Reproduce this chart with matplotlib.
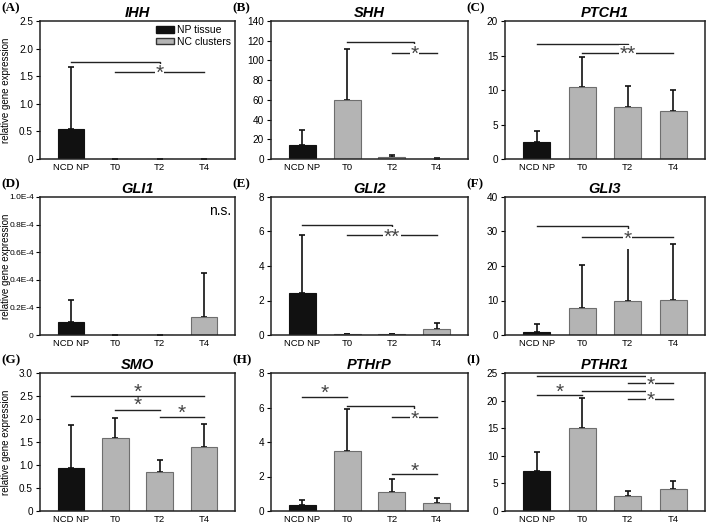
import matplotlib
matplotlib.use("Agg")
import matplotlib.pyplot as plt
import matplotlib.transforms as mtransforms
from matplotlib.patches import Patch

plt.rcParams["font.family"] = ["Liberation Sans", "DejaVu Sans"]

CATEGORIES = ["NCD NP", "T0", "T2", "T4"]

# mean and upper SD per gene
IHH_MEAN = [0.55, 0, 0, 0]
IHH_SD = [1.12, 0, 0, 0]
SHH_MEAN = [13.9, 60, 2.1, 0.3]
SHH_SD = [15.6, 52, 2.1, 0.4]
PTCH1_MEAN = [2.5, 10.5, 7.55, 7.0]
PTCH1_SD = [1.5, 4.3, 3.05, 2.95]
GLI1_MEAN = [0.93e-5, 0, 0, 1.34e-5]
GLI1_SD = [1.63e-5, 0, 0, 3.12e-5]
GLI2_MEAN = [2.41, 0.03, 0.03, 0.33]
GLI2_SD = [3.36, 0.02, 0.02, 0.39]
GLI3_MEAN = [0.96, 7.7, 10.0, 10.2]
GLI3_SD = [2.24, 12.7, 16.3, 16.3]
SMO_MEAN = [0.93, 1.58, 0.84, 1.39]
SMO_SD = [0.94, 0.44, 0.26, 0.50]
PTHRP_MEAN = [0.33, 3.46, 1.08, 0.44]
PTHRP_SD = [0.32, 2.44, 0.75, 0.31]
PTHR1_MEAN = [7.2, 15.0, 2.7, 3.9]
PTHR1_SD = [3.4, 5.5, 1.0, 1.5]

# y ticks
IHH_YTICKS = [0, 0.5, 1.0, 1.5, 2.0, 2.5]
IHH_YLABELS = ["0", "0.5", "1.0", "1.5", "2.0", "2.5"]
SHH_YTICKS = [0, 20, 40, 60, 80, 100, 120, 140]
PTCH1_YTICKS = [0, 5, 10, 15, 20]
GLI1_YTICKS = [0, 0.2e-4, 0.4e-4, 0.6e-4, 0.8e-4, 1.0e-4]
GLI1_YLABELS = ["0", "0.2E-4", "0.4E-4", "0.6E-4", "0.8E-4", "1.0E-4"]
GLI2_YTICKS = [0, 2, 4, 6, 8]
GLI3_YTICKS = [0, 10, 20, 30, 40]
SMO_YTICKS = [0, 0.5, 1.0, 1.5, 2.0, 2.5, 3.0]
SMO_YLABELS = ["0", "0.5", "1.0", "1.5", "2.0", "2.5", "3.0"]
PTHRP_YTICKS = [0, 2, 4, 6, 8]
PTHR1_YTICKS = [0, 5, 10, 15, 20, 25]

# significance marks:
#   ("bracket", x0, x1, y, y_drop)       line with a drop at x1
#   ("on", x0, x1, y, text, x_text)      line broken by the star
#   ("above", x0, x1, y, text, y_text)   star sitting over the line
IHH_SIG = [("bracket", 0, 2, 1.76, 1.68), ("on", 1, 3, 1.58, "*", 2)]
SHH_SIG = [("bracket", 1, 2.5, 118.5, 114), ("on", 2, 3, 108, "*", 2.5)]
PTCH1_SIG = [("bracket", 0, 2, 16.6, 16.1), ("on", 1, 3, 15.4, "**", 2)]
GLI1_SIG = []
GLI2_SIG = [("bracket", 0, 2, 6.39, 6.16), ("on", 1, 3, 5.77, "**", 2)]
GLI3_SIG = [("bracket", 0, 2, 31.5, 30.4), ("on", 1, 3, 28.4, "*", 2)]
SMO_SIG = [("above", 0, 3, 2.49, "*", 2.62), ("above", 1, 2, 2.20, "*", 2.33),
           ("above", 2, 3, 2.05, "*", 2.17)]
PTHRP_SIG = [("above", 0, 1, 6.63, "*", 6.93), ("bracket", 1, 2.5, 6.06, 5.79),
             ("on", 2, 3, 5.45, "*", 2.5), ("above", 2, 3, 2.12, "*", 2.44)]
PTHR1_SIG = [("bracket", 0, 2.5, 24.5, 23.6), ("on", 2, 3, 23.2, "*", 2.5),
             ("above", 0, 1, 21.0, "*", 21.9), ("bracket", 1, 2.5, 21.75, 20.8),
             ("on", 2, 3, 20.35, "*", 2.5)]

PANELS = [
    ("(A)", "IHH", IHH_MEAN, IHH_SD, IHH_YTICKS, IHH_YLABELS, IHH_SIG),
    ("(B)", "SHH", SHH_MEAN, SHH_SD, SHH_YTICKS, None, SHH_SIG),
    ("(C)", "PTCH1", PTCH1_MEAN, PTCH1_SD, PTCH1_YTICKS, None, PTCH1_SIG),
    ("(D)", "GLI1", GLI1_MEAN, GLI1_SD, GLI1_YTICKS, GLI1_YLABELS, GLI1_SIG),
    ("(E)", "GLI2", GLI2_MEAN, GLI2_SD, GLI2_YTICKS, None, GLI2_SIG),
    ("(F)", "GLI3", GLI3_MEAN, GLI3_SD, GLI3_YTICKS, None, GLI3_SIG),
    ("(G)", "SMO", SMO_MEAN, SMO_SD, SMO_YTICKS, SMO_YLABELS, SMO_SIG),
    ("(H)", "PTHrP", PTHRP_MEAN, PTHRP_SD, PTHRP_YTICKS, None, PTHRP_SIG),
    ("(I)", "PTHR1", PTHR1_MEAN, PTHR1_SD, PTHR1_YTICKS, None, PTHR1_SIG),
]

W, H = 709, 525
COL_LEFT = [40, 271, 505]
COL_WIDTH = [195, 197, 200]
ROW_TOP = [21, 197, 373]
AX_H = 138

BLACK = "#111111"
GRAY = "#b4b4b4"
GRAY_EDGE = "#6e6e6e"
STAR = "#444444"
STAR_FS = 15


def draw_star(fig, ax, x, y, text, white_bg):
    # shift down so the asterisk glyph is centred on y
    tr = mtransforms.offset_copy(ax.transData, fig=fig, y=-0.36 * STAR_FS, units="points")
    kw = dict(ha="center", va="baseline", fontsize=STAR_FS, color=STAR, transform=tr, zorder=5)
    if white_bg:
        kw["bbox"] = dict(facecolor="white", edgecolor="none", pad=0.5)
    ax.text(x, y, text, **kw)


def draw_panel(fig, ax, label, gene, mean, sd, yticks, ylabels, sig):
    x = list(range(len(CATEGORIES)))
    colors = [BLACK] + [GRAY] * 3
    edges = [BLACK] + [GRAY_EDGE] * 3
    ax.bar(x, mean, width=0.6, color=colors, edgecolor=edges, linewidth=0.8, zorder=2)
    ax.errorbar(x, mean, yerr=[[0] * len(sd), sd], fmt="none", ecolor=BLACK,
                elinewidth=1.2, capsize=2.5, capthick=1.2, zorder=1)

    ax.set_xlim(-0.7, 3.7)
    ax.set_ylim(yticks[0], yticks[-1])
    ax.set_xticks(x)
    ax.set_xticklabels(CATEGORIES, fontsize=6.8)
    ax.set_yticks(yticks)
    if ylabels is None:
        ylabels = [str(t) for t in yticks]
    ax.set_yticklabels(ylabels, fontsize=6 if gene == "GLI1" else 7.2)
    ax.tick_params(axis="x", length=0, pad=3)
    ax.tick_params(axis="y", length=3, width=0.8, pad=1.5 if gene == "GLI1" else 2,
                   direction="out")
    for s in ax.spines.values():
        s.set_linewidth(1.1)
        s.set_color("#222222")

    ax.set_title(gene, fontsize=10.5, fontweight="bold", fontstyle="italic", pad=3)

    for item in sig:
        kind = item[0]
        if kind == "bracket":
            _, x0, x1, y, yd = item
            ax.plot([x0, x1, x1], [y, y, yd], color="#222222", lw=1.0, zorder=3)
        elif kind == "on":
            _, x0, x1, y, text, xt = item
            ax.plot([x0, x1], [y, y], color="#222222", lw=1.0, zorder=3)
            draw_star(fig, ax, xt, y, text, True)
        else:
            _, x0, x1, y, text, yt = item
            ax.plot([x0, x1], [y, y], color="#222222", lw=1.0, zorder=3)
            draw_star(fig, ax, (x0 + x1) / 2, yt, text, False)


fig = plt.figure(figsize=(W / 100, H / 100), dpi=100)

for i, (label, gene, mean, sd, yticks, ylabels, sig) in enumerate(PANELS):
    r, c = divmod(i, 3)
    left = COL_LEFT[c]
    top = ROW_TOP[r]
    ax = fig.add_axes([left / W, 1 - (top + AX_H) / H, COL_WIDTH[c] / W, AX_H / H])
    draw_panel(fig, ax, label, gene, mean, sd, yticks, ylabels, sig)
    fig.text((left - 40 + 1) / W, 1 - (top - 13) / H, label, fontsize=9.5,
             fontweight="bold", family=["Liberation Serif", "DejaVu Serif"],
             ha="left", va="center")
    if c == 0:
        ax.set_ylabel("relative gene expression", fontsize=7)
        ax.yaxis.set_label_coords(-29 / COL_WIDTH[c], 0.5)
    if gene == "IHH":
        handles = [Patch(facecolor=BLACK, edgecolor=BLACK),
                   Patch(facecolor=GRAY, edgecolor="#333333")]
        ax.legend(handles, ["NP tissue", "NC clusters"], loc="upper right",
                  frameon=False, fontsize=7.5, handlelength=1.7, handleheight=0.6,
                  handletextpad=0.3, labelspacing=0.15, borderaxespad=0.2,
                  borderpad=0.2)
    if gene == "GLI1":
        ax.text(0.98, 0.95, "n.s.", transform=ax.transAxes, ha="right", va="top",
                fontsize=10)

fig.savefig("out.png", dpi=100)
